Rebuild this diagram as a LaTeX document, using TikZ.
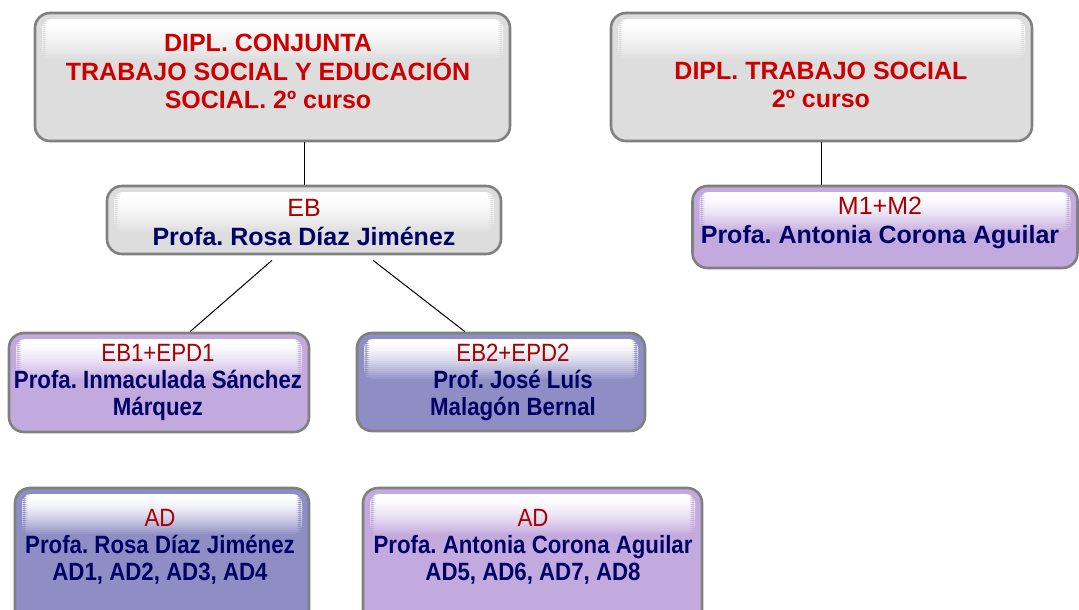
\documentclass[tikz,border=0pt]{standalone}
\usepackage{fontspec}
\setmainfont{Liberation Sans}
\newfontfamily\narrowsans{Liberation Sans}[FakeStretch=0.89]
\usepackage{tikz}
\usetikzlibrary{positioning}
\frenchspacing

\definecolor{boxgray}{RGB}{221,221,221}
\definecolor{boxlila}{RGB}{195,170,222}
\definecolor{boxblue}{RGB}{142,142,196}
\definecolor{boxedge}{RGB}{128,128,128}
\definecolor{titlered}{RGB}{204,0,0}
\definecolor{subred}{RGB}{168,0,0}
\definecolor{navy}{RGB}{0,0,102}

\tikzset{
  box/.style={draw=boxedge, line width=2.6pt, rounded corners=15pt, fill=#1,
    path picture={
      \begin{scope}
        \clip[rounded corners=9pt] ([xshift=7pt,yshift=-6pt]path picture bounding box.north west)
          rectangle ([xshift=-7pt,yshift=-46pt]path picture bounding box.north east);
        \foreach \k [evaluate=\k as \pct using {int(100*(\k/20)^1.6)}] in {0,...,20}
          \fill[#1!\pct!white] ([yshift={-(6+2*\k)*1pt}]path picture bounding box.north west)
            rectangle ([yshift={-(8.6+2*\k)*1pt}]path picture bounding box.north east);
      \end{scope}}},
  title/.style={align=center, inner sep=0pt, text=titlered,
    font=\fontsize{25}{28.5}\selectfont\bfseries},
  who/.style={align=center, inner sep=0pt, text=navy,
    font=\fontsize{25}{29}\selectfont\bfseries},
  whonarrow/.style={align=center, inner sep=0pt, text=navy,
    font=\narrowsans\fontsize{25}{27}\selectfont\bfseries},
  link/.style={line width=1pt, black}
}

\begin{document}
\begin{tikzpicture}[x=1pt,y=-1pt]
\useasboundingbox (0,0) rectangle (1079,610);

	% top level
	\node[box=boxgray, minimum width=475pt, minimum height=128pt] (conj) at (272.5,77) {};
	\node[box=boxgray, minimum width=421pt, minimum height=128pt] (ts) at (821.5,77) {};
	\node[title] (conjtxt) at (268,71.5) {DIPL. CONJUNTA\\TRABAJO SOCIAL Y EDUCACIÓN\\SOCIAL. 2º curso};
	\node[title] (tstxt) at (821,85) {DIPL. TRABAJO SOCIAL\\2º curso};

	% second level
	\node[box=boxgray, minimum width=394pt, minimum height=68pt] (eb) at (304,220) {};
	\node[box=boxlila, minimum width=385pt, minimum height=82pt] (m) at (885,227) {};
	\node[who] (ebtxt) at (304,223) {{\color{subred}\mdseries EB}\\Profa. Rosa Díaz Jiménez};
	\node[who] (mtxt) at (880,223) {{\color{subred}\mdseries M1+M2}\\Profa. Antonia Corona Aguilar};

	% groups
	\node[box=boxlila, minimum width=300pt, minimum height=99pt] (eb1) at (159,382.5) {};
	\node[box=boxblue, minimum width=288pt, minimum height=98pt] (eb2) at (501,382) {};
	\node[whonarrow] (eb1txt) at (158,382) {{\color{subred}\mdseries EB1+EPD1}\\Profa. Inmaculada Sánchez\\Márquez};
	\node[whonarrow] (eb2txt) at (513,382) {{\color{subred}\mdseries EB2+EPD2}\\Prof. José Luís\\Malagón Bernal};

	\node[box=boxblue, minimum width=294pt, minimum height=142pt] (ad1) at (162,559) {};
	\node[box=boxlila, minimum width=339pt, minimum height=142pt] (ad2) at (532.5,559) {};
	\node[whonarrow] (ad1txt) at (160,546.5) {{\color{subred}\mdseries AD}\\Profa. Rosa Díaz Jiménez\\AD1, AD2, AD3, AD4};
	\node[whonarrow] (ad2txt) at (533,546.5) {{\color{subred}\mdseries AD}\\Profa. Antonia Corona Aguilar\\AD5, AD6, AD7, AD8};

	\coordinate (ebL) at ([xshift=-32pt,yshift=-5pt]eb.south);
	\coordinate (ebR) at ([xshift=69pt,yshift=-5pt]eb.south);

	\draw[link] (eb.north) -- (eb.north |- conj.south);
	\draw[link] (ts.south) -- (ts.south |- m.north);
	\draw[link] (ebL) -- ([xshift=31pt]eb1.north);
	\draw[link] (ebR) -- ([xshift=-36pt]eb2.north);

\end{tikzpicture}
\end{document}
